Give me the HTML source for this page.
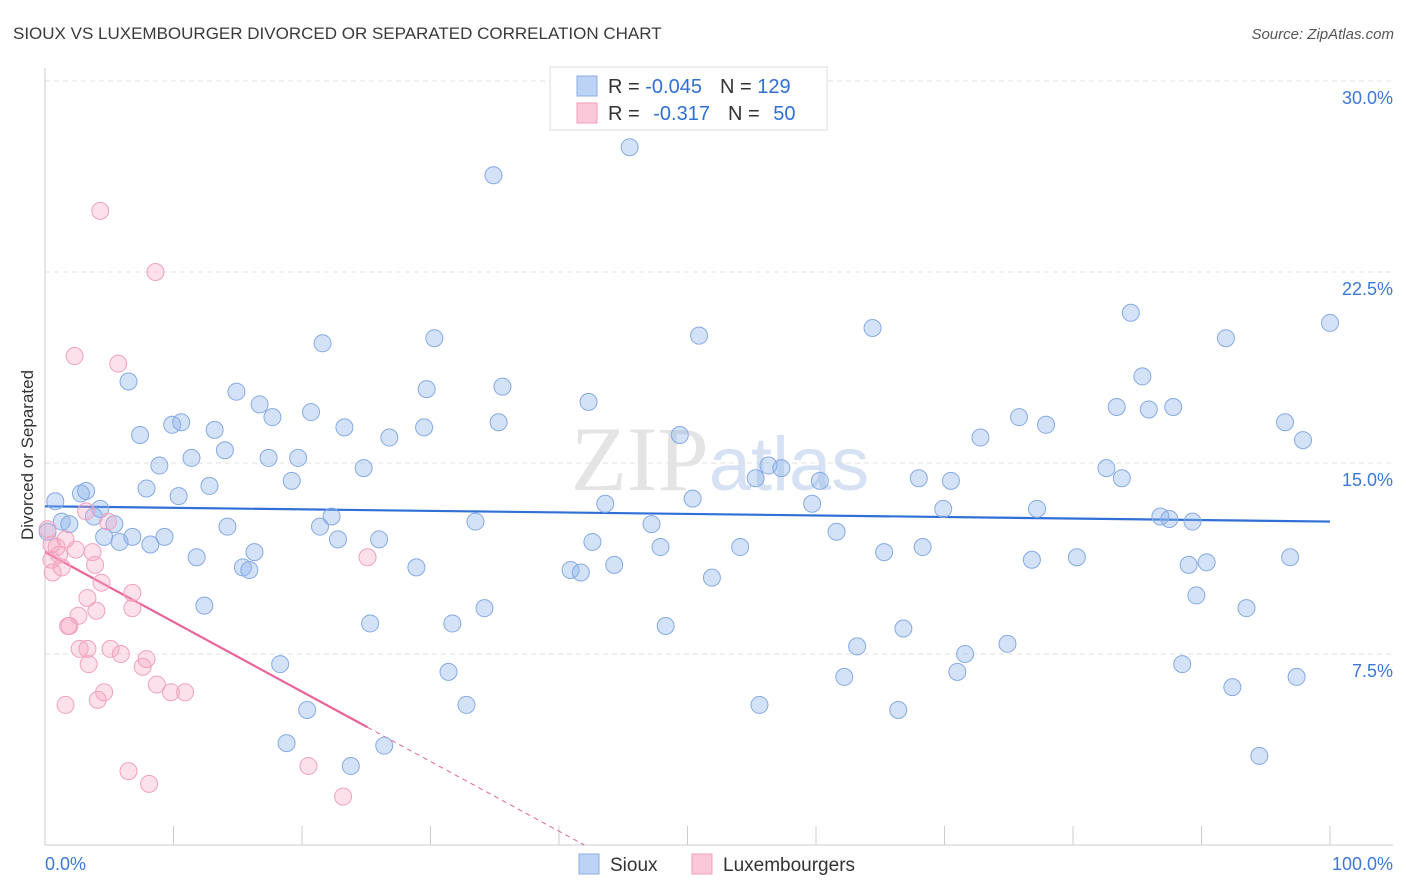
<!DOCTYPE html>
<html><head><meta charset="utf-8"><style>
body{margin:0;background:#fff;font-family:"Liberation Sans",sans-serif;}
</style></head><body>
<svg id="chart" width="1406" height="892" xmlns="http://www.w3.org/2000/svg" style="display:block">
<text x="13" y="39" font-size="17" fill="#3a3a3a">SIOUX VS LUXEMBOURGER DIVORCED OR SEPARATED CORRELATION CHART</text>
<text x="1394" y="39" font-size="15" fill="#555" font-style="italic" text-anchor="end">Source: ZipAtlas.com</text>
<text x="720" y="490" font-size="92" fill="#e4e4e4" text-anchor="middle" font-family="Liberation Serif,serif">ZIP<tspan fill="#d6e2f3" font-family="Liberation Sans,sans-serif" font-size="76">atlas</tspan></text>
<g id="grid"></g>
<g id="axes"></g>
<text transform="translate(33,455) rotate(-90)" font-size="17" fill="#333" text-anchor="middle">Divorced or Separated</text>
<g id="trends"></g>
<g id="pts"></g>
<g>
<rect x="550" y="67" width="277" height="63" fill="#fff" stroke="#ddd"/>
<rect x="577" y="76" width="20" height="20" fill="#bcd3f5" stroke="#8aaee6"/>
<rect x="577" y="103" width="20" height="20" fill="#fac8d8" stroke="#f0a0b8"/>
<text x="608" y="93" font-size="20" fill="#333">R = <tspan fill="#2f6fd6">-0.045</tspan><tspan dx="18" fill="#333">N = </tspan><tspan fill="#2f6fd6">129</tspan></text>
<text x="608" y="120" font-size="20" fill="#333">R = <tspan dx="8" fill="#2f6fd6">-0.317</tspan><tspan dx="18" fill="#333">N = </tspan><tspan dx="8" fill="#2f6fd6">50</tspan></text>
</g>
<g>
<rect x="579" y="854" width="20" height="20" fill="#bcd3f5" stroke="#8aaee6"/>
<text x="610" y="871" font-size="19" fill="#333">Sioux</text>
<rect x="692" y="854" width="20" height="20" fill="#fac8d8" stroke="#f0a0b8"/>
<text x="723" y="871" font-size="19" fill="#333">Luxembourgers</text>
</g>
</svg>
<script>
const yTicks=[7.5,15,22.5,30];
const yTickLabels=["7.5%","15.0%","22.5%","30.0%"];
const xTickLabels=["0.0%","100.0%"];
const siouxX=[0.8,1.3,1.9,2.8,3.2,3.8,4.3,4.6,5.4,5.8,6.5,6.8,7.4,7.9,8.2,8.9,9.3,9.9,10.4,10.6,11.4,11.8,12.4,12.8,13.2,14.0,14.2,14.9,15.4,15.9,16.3,16.7,17.4,17.7,18.3,18.8,19.2,19.7,20.4,20.7,21.4,21.6,22.3,22.8,23.3,23.8,24.8,25.3,26.0,26.4,26.8,28.9,29.5,29.7,30.3,31.4,31.7,32.8,33.5,34.2,34.9,35.3,35.6,40.9,41.7,42.3,42.6,43.6,44.3,45.5,47.2,47.9,48.3,49.4,50.4,50.9,51.9,54.1,55.3,55.6,56.3,57.3,59.7,60.3,61.6,62.2,63.2,64.4,65.3,66.4,66.8,68.0,68.3,69.9,70.5,71.0,71.6,72.8,74.9,75.8,76.8,77.2,77.9,80.3,82.6,83.4,83.8,84.5,85.4,85.9,86.8,87.5,87.8,88.5,89.0,89.3,89.6,90.4,91.9,92.4,93.5,94.5,96.5,96.9,97.4,97.9,100,0.2];
const siouxY=[13.5,12.7,12.6,13.8,13.9,12.9,13.2,12.1,12.6,11.9,18.2,12.1,16.1,14.0,11.8,14.9,12.1,16.5,13.7,16.6,15.2,11.3,9.4,14.1,16.3,15.5,12.5,17.8,10.9,10.8,11.5,17.3,15.2,16.8,7.1,4.0,14.3,15.2,5.3,17.0,12.5,19.7,12.9,12.0,16.4,3.1,14.8,8.7,12.0,3.9,16.0,10.9,16.4,17.9,19.9,6.8,8.7,5.5,12.7,9.3,26.3,16.6,18.0,10.8,10.7,17.4,11.9,13.4,11.0,27.4,12.6,11.7,8.6,16.1,13.6,20.0,10.5,11.7,14.4,5.5,14.9,14.8,13.4,14.3,12.3,6.6,7.8,20.3,11.5,5.3,8.5,14.4,11.7,13.2,14.3,6.8,7.5,16.0,7.9,16.8,11.2,13.2,16.5,11.3,14.8,17.2,14.4,20.9,18.4,17.1,12.9,12.8,17.2,7.1,11.0,12.7,9.8,11.1,19.9,6.2,9.3,3.5,16.6,11.3,6.6,15.9,20.5,12.3];
const luxX=[0.2,0.5,0.5,0.6,0.9,1.1,1.3,1.6,1.9,2.3,2.4,2.6,2.7,3.3,3.4,3.7,3.9,4.0,4.1,4.3,4.4,4.6,4.9,5.1,5.7,5.9,6.5,6.8,6.8,7.6,7.9,8.1,8.6,8.7,9.8,10.9,20.5,23.2,25.1,1.6,3.3,1.8,3.2];
const luxY=[12.4,11.8,11.2,10.7,11.7,11.4,10.9,12.0,8.6,19.2,11.6,9.0,7.7,7.7,7.1,11.5,11.0,9.2,5.7,24.9,10.3,6.0,12.7,7.7,18.9,7.5,2.9,9.9,9.3,7.0,7.3,2.4,22.5,6.3,6.0,6.0,3.1,1.9,11.3,5.5,9.7,8.6,13.1];
const siouxTrend=[13.3,-0.006];
const luxTrend=[11.5,-0.274];
const X0=45,X1=1330,Y0=845,YTOP=81;
const sx=v=>X0+(X1-X0)*v/100;
const sy=v=>Y0-(Y0-YTOP)*v/30;
const NS="http://www.w3.org/2000/svg";
function mk(t,a,p){const e=document.createElementNS(NS,t);for(const k in a)e.setAttribute(k,a[k]);p.appendChild(e);return e;}
const grid=document.getElementById('grid'),axes=document.getElementById('axes');
yTicks.forEach((t,i)=>{
 const l=mk('line',{x1:X0,x2:1393,y1:sy(t),y2:sy(t),stroke:'#e2e2e2','stroke-dasharray':'5,4'},grid);
 
 
 const tx=mk('text',{x:1393,y:sy(t)+23,'font-size':18,fill:'#3b78d8','text-anchor':'end'},axes);
 tx.textContent=yTickLabels[i];
 
 
});
mk('line',{x1:X0,x2:X0,y1:68,y2:Y0,stroke:'#ccc'},axes);
mk('line',{x1:X0,x2:1393,y1:Y0,y2:Y0,stroke:'#ccc'},axes);
for(let i=1;i<=10;i++){const x=sx(i*10);const tk=mk('line',{x1:x,x2:x,y1:826,y2:Y0,stroke:'#ccc'},axes);
 
 }
[[0,'start',45],[100,'end',1393]].forEach((d,i)=>{const t=mk('text',{x:d[2],y:870,'font-size':18,fill:'#3b78d8','text-anchor':d[1]},axes);t.textContent=xTickLabels[i];
 
 });
const pts=document.getElementById('pts');
siouxX.forEach((x,i)=>{const c=mk('circle',{cx:sx(x),cy:sy(siouxY[i]),r:8.5,fill:'rgba(140,178,235,0.38)',stroke:'#86aae4','stroke-width':1},pts);
 
 });
luxX.forEach((x,i)=>{const c=mk('circle',{cx:sx(x),cy:sy(luxY[i]),r:8.5,fill:'rgba(245,165,195,0.35)',stroke:'#f0a2bc','stroke-width':1},pts);
 
 });
const tr=document.getElementById('trends');
const b=mk('line',{x1:sx(0),y1:sy(siouxTrend[0]),x2:sx(100),y2:sy(siouxTrend[0]+siouxTrend[1]*100),stroke:'#2f6fd6','stroke-width':2.2},tr);


const xe=25.1,xz=luxTrend[0]/-luxTrend[1];
const p=mk('line',{x1:sx(0),y1:sy(luxTrend[0]),x2:sx(xe),y2:sy(luxTrend[0]+luxTrend[1]*xe),stroke:'#e8649a','stroke-width':2.2},tr);


const pd=mk('line',{x1:sx(xe),y1:sy(luxTrend[0]+luxTrend[1]*xe),x2:sx(xz),y2:sy(0),stroke:'#e8649a','stroke-width':1,'stroke-dasharray':'5,4'},tr);


</script>
</body></html>
